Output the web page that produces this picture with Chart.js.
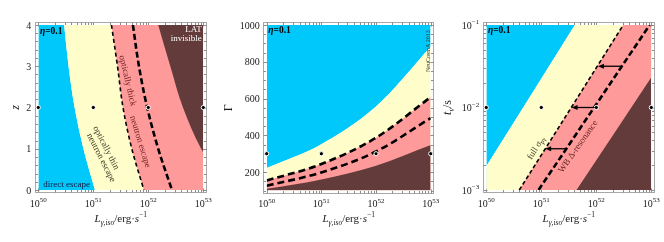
<!DOCTYPE html>
<html>
<head>
<meta charset="utf-8">
<script src="https://cdn.jsdelivr.net/npm/chart.js@4.4.1/dist/chart.umd.min.js"></script>
<style>
  html, body { margin: 0; padding: 0; background: #fff; }
  .panels { position: relative; width: 664px; height: 242px; }
  .panels canvas { position: absolute; top: 0; }
</style>
</head>
<body>
<div class="panels">
  <canvas id="zChart" width="221" height="242" style="left:0"></canvas>
  <canvas id="gammaChart" width="221" height="242" style="left:221px"></canvas>
  <canvas id="tvChart" width="222" height="242" style="left:442px"></canvas>
</div>
<script>
// values, luminosity as log10(L / erg s^-1)
const logLumDecades = [50, 51, 52, 53];

// left panel: region edges as log10 L at each redshift
const redshifts = [4, 3, 2, 1, 0];
const directEscapeEdge = [50.47, 50.55, 50.66, 50.82, 51.03];
const thinNeutronEdge = [51.33, 51.44, 51.54, 51.70, 51.92];
const thickNeutronEdge = [51.72, 51.83, 51.98, 52.18, 52.43];
const latRedshifts = [4, 3, 2, 1, 0.8];
const latInvisibleEdge = [52.18, 52.40, 52.63, 52.96, 53.05];
const refRedshift = 2;

// middle panel: region edges as Gamma at each decade of L
const escapeGamma = [222, 352, 557, 882];
const thinGamma = [154, 244, 387, 608];
const thickGamma = [126, 198, 312, 494];
const latGamma = [109, 160, 235, 348];
const refGamma = 300;

// right panel: edges as log10 L where they meet t_v = 1e-3 and 1e-1
const logTvEnds = [-3, -1];
const escapeTv = [49.73, 51.61];
const fullSigmaTv = [50.60, 52.49];
const wbDeltaTv = [50.95, 52.97];
const latTv = [51.64, 53.63];
const refLogTv = -2;
const arrowLogTv = [-1.5, -2, -2.5];
const arrowFrom = [52.47, 51.97, 51.46];
const arrowTo = [52.03, 51.55, 51.07];

const BLUE = '#00c8fa', YELLOW = '#fffdc9', PINK = '#ff9a9a', BROWN = '#643b3b';
const SERIF = '"Liberation Serif", "DejaVu Serif", serif';
const f = (size, style) => (style ? style + ' ' : '') + size + 'px ' + SERIF;

const pts = (xs, ys) => xs.map((x, i) => ({x, y: ys[i]}));
const same = (xs, v) => xs.map(() => v);

const region = (data, color, fill, order) => ({
    data, fill, order, backgroundColor: color, borderColor: 'transparent', borderWidth: 0,
    pointRadius: 0, cubicInterpolationMode: 'monotone'
});
const dashed = (data, width, dash) => ({
    data, fill: false, order: 1, borderColor: '#000', borderWidth: width, borderDash: dash,
    pointRadius: 0, cubicInterpolationMode: 'monotone'
});
const dots = (data) => ({
    data, showLine: false, order: 0, clip: false, pointRadius: 2.1,
    pointBackgroundColor: '#000', pointBorderColor: '#fff', pointBorderWidth: 1
});

const logMinor = (lo, hi) => {
    const out = [];
    for (let d = lo; d < hi; d++) for (let k = 2; k < 10; k++) out.push(d + Math.log10(k));
    return out;
};
const linMinor = (lo, hi, step) => {
    const out = [];
    for (let v = lo; v <= hi + 1e-9; v += step) out.push(v);
    return out;
};

function drawRuns(ctx, runs, x, y, align) {
    ctx.textAlign = 'left';
    let w = 0;
    for (const r of runs) { ctx.font = r.f; r.w = ctx.measureText(r.t).width; w += r.w; }
    let cx = align === 'center' ? x - w / 2 : (align === 'right' ? x - w : x);
    for (const r of runs) { ctx.font = r.f; ctx.fillText(r.t, cx, y + (r.dy || 0)); cx += r.w; }
}
const pow10 = e => [{t: '10', f: f(10)}, {t: String(e).replace('-', '\u2212'), f: f(7), dy: -4.5}];
const plain = v => [{t: String(v), f: f(10)}];
const lumTitle = [
    {t: 'L', f: f(11, 'italic')}, {t: '\u03b3,iso', f: f(7.5, 'italic'), dy: 2.5},
    {t: '/erg\u00b7', f: f(11)}, {t: 's', f: f(11, 'italic')}, {t: '\u22121', f: f(7.5), dy: -5}
];
const etaRuns = [{t: '\u03b7', f: f(9.5, 'italic bold')}, {t: '=0.1', f: f(9.5, 'bold')}];

function drawFrame(chart, o) {
    const {ctx, chartArea: a, scales: {x, y}} = chart;
    const l = Math.floor(a.left) - 2.5, r = Math.ceil(a.right) + 2.5;
    const t = Math.floor(a.top) - 2.5, b = Math.ceil(a.bottom) + 2.5;
    ctx.save();
    ctx.strokeStyle = '#a8a8a8';
    ctx.lineWidth = 1;
    ctx.strokeRect(l, t, r - l, b - t);
    ctx.strokeStyle = '#8c8c8c';
    ctx.beginPath();
    const xt = (v, len) => {
        const p = Math.round(x.getPixelForValue(v)) + 0.5;
        ctx.moveTo(p, b); ctx.lineTo(p, b - len); ctx.moveTo(p, t); ctx.lineTo(p, t + len);
    };
    const yt = (v, len) => {
        const p = Math.round(y.getPixelForValue(v)) + 0.5;
        ctx.moveTo(l, p); ctx.lineTo(l + len, p); ctx.moveTo(r, p); ctx.lineTo(r - len, p);
    };
    o.xMinor.forEach(v => xt(v, 2.5));
    o.xMajor.forEach(v => xt(v, 4));
    o.yMinor.forEach(v => yt(v, 2.5));
    o.yMajor.forEach(v => yt(v, 4));
    ctx.stroke();
    ctx.restore();
}

function drawAxisText(chart, o) {
    const {ctx, chartArea: a, scales: {x, y}} = chart;
    ctx.save();
    ctx.fillStyle = '#1a1a1a';
    ctx.textBaseline = 'alphabetic';
    o.xMajor.forEach(v => drawRuns(ctx, pow10(v), x.getPixelForValue(v), a.bottom + 16.5, 'center'));
    o.yMajor.forEach(v => drawRuns(ctx, o.yLabel(v), a.left - 7, y.getPixelForValue(v) + 3.5, 'right'));
    drawRuns(ctx, lumTitle, (a.left + a.right) / 2, 222, 'center');
    ctx.translate(a.left - o.yTitleGap, (a.top + a.bottom) / 2);
    ctx.rotate(-Math.PI / 2);
    drawRuns(ctx, o.yTitle, 0, 3.5, 'center');
    ctx.restore();
}

function label(chart, runs, xv, yv, opts) {
    const {ctx, scales: {x, y}} = chart;
    ctx.save();
    ctx.translate(x.getPixelForValue(xv), y.getPixelForValue(yv));
    ctx.rotate((opts.angle || 0) * Math.PI / 180);
    ctx.fillStyle = opts.color || '#111';
    ctx.textBaseline = opts.baseline || 'middle';
    drawRuns(ctx, runs, 0, 0, opts.align || 'center');
    ctx.restore();
}

function decoPlugin(o) {
    return {
        id: 'deco',
        beforeDatasetsDraw(chart) { drawFrame(chart, o); },
        afterDatasetsDraw(chart) {
            drawAxisText(chart, o);
            o.extra(chart);
        }
    };
}

function baseOptions(padding, indexAxis, xr, yr) {
    return {
        responsive: false,
        animation: false,
        events: [],
        indexAxis,
        layout: { padding },
        scales: {
            x: { type: 'linear', min: xr[0], max: xr[1], display: false },
            y: { type: 'linear', min: yr[0], max: yr[1], display: false }
        },
        plugins: { legend: { display: false }, tooltip: { enabled: false } }
    };
}

// ---------- left: z vs L ----------
new Chart(document.getElementById('zChart'), {
    type: 'line',
    data: {
        datasets: [
            dots(pts(logLumDecades, same(logLumDecades, refRedshift))),
            dashed(pts(thinNeutronEdge, redshifts), 1.6, [4, 3]),
            dashed(pts(thickNeutronEdge, redshifts), 2.6, [6, 3]),
            region(pts(latInvisibleEdge, latRedshifts), BROWN, {value: 53}, 2),
            region(pts(thinNeutronEdge, redshifts), PINK, {value: 53}, 3),
            region(pts(directEscapeEdge, redshifts), YELLOW, {value: 53}, 4),
            region(pts(directEscapeEdge, redshifts), BLUE, {value: 50}, 5)
        ]
    },
    options: baseOptions({left: 38.3, right: 17.7, top: 25, bottom: 52}, 'y', [50, 53], [0, 4]),
    plugins: [decoPlugin({
        xMajor: logLumDecades, xMinor: logMinor(50, 53),
        yMajor: [0, 1, 2, 3, 4], yMinor: linMinor(0, 4, 0.2),
        yLabel: plain, yTitle: [{t: 'z', f: f(12, 'italic')}], yTitleGap: 23,
        extra(chart) {
            label(chart, etaRuns, 50.03, 3.79, {align: 'left', baseline: 'alphabetic', color: '#000'});
            label(chart, [{t: 'LAT', f: f(9)}], 52.97, 3.84, {align: 'right', baseline: 'alphabetic', color: '#fff'});
            label(chart, [{t: 'invisible', f: f(9)}], 52.97, 3.61, {align: 'right', baseline: 'alphabetic', color: '#fff'});
            label(chart, [{t: 'direct escape', f: f(9)}], 50.09, 0.07, {align: 'left', baseline: 'alphabetic', color: '#16163e'});
            label(chart, [{t: 'optically thin', f: f(9)}], 51.23, 1.02, {angle: 63, color: '#3b3826'});
            label(chart, [{t: 'neutron escape', f: f(9)}], 51.14, 0.78, {angle: 63, color: '#3b3826'});
            label(chart, [{t: 'optically thick', f: f(9)}], 51.62, 2.65, {angle: 77, color: '#6a1f1f'});
            label(chart, [{t: 'neutron escape', f: f(9)}], 51.85, 1.17, {angle: 73, color: '#6a1f1f'});
        }
    })]
});

// ---------- middle: Gamma vs L ----------
new Chart(document.getElementById('gammaChart'), {
    type: 'line',
    data: {
        datasets: [
            dots(pts(logLumDecades, same(logLumDecades, refGamma))),
            dashed(pts(logLumDecades, thinGamma), 2.6, [7, 4]),
            dashed(pts(logLumDecades, thickGamma), 2.6, [7, 4]),
            region(pts(logLumDecades, latGamma), BROWN, 'start', 2),
            region(pts(logLumDecades, thinGamma), PINK, 'start', 3),
            region(pts(logLumDecades, escapeGamma), YELLOW, 'start', 4),
            region(pts(logLumDecades, escapeGamma), BLUE, 'end', 5)
        ]
    },
    options: baseOptions({left: 45.7, right: 11.3, top: 25, bottom: 51.5}, 'x', [50, 53], [100, 1000]),
    plugins: [decoPlugin({
        xMajor: logLumDecades, xMinor: logMinor(50, 53),
        yMajor: [200, 400, 600, 800, 1000], yMinor: linMinor(100, 1000, 50),
        yLabel: plain, yTitle: [{t: '\u0393', f: f(12)}], yTitleGap: 38.4,
        extra(chart) {
            label(chart, etaRuns, 50.03, 954, {align: 'left', baseline: 'alphabetic', color: '#000'});
            label(chart, [{t: 'NeuCosmA 2013', f: f(6)}], 52.95, 858, {angle: -90, color: '#333'});
        }
    })]
});

// ---------- right: t_v vs L ----------
new Chart(document.getElementById('tvChart'), {
    type: 'line',
    data: {
        datasets: [
            dots(pts(logLumDecades, same(logLumDecades, refLogTv))),
            dashed(pts(fullSigmaTv, logTvEnds), 1.6, [4, 2.5]),
            dashed(pts(wbDeltaTv, logTvEnds), 2.6, [6, 3]),
            region(pts(latTv, logTvEnds), BROWN, {value: 53}, 2),
            region(pts(fullSigmaTv, logTvEnds), PINK, {value: 53}, 3),
            region(pts(escapeTv, logTvEnds), YELLOW, {value: 53}, 4),
            region(pts(escapeTv, logTvEnds), BLUE, {value: 50}, 5)
        ]
    },
    options: baseOptions({left: 44.3, right: 12.7, top: 25, bottom: 52}, 'y', [50, 53], [-3, -1]),
    plugins: [decoPlugin({
        xMajor: logLumDecades, xMinor: logMinor(50, 53),
        yMajor: [-3, -2, -1], yMinor: logMinor(-3, -1),
        yLabel: pow10,
        yTitle: [{t: 't', f: f(12, 'italic')}, {t: 'v', f: f(8, 'italic'), dy: 2.5}, {t: '/s', f: f(12)}],
        yTitleGap: 38.8,
        extra(chart) {
            const {ctx, scales: {x, y}} = chart;
            label(chart, etaRuns, 50.03, -1.10, {align: 'left', baseline: 'alphabetic', color: '#000'});
            label(chart, [{t: 'full \u03c3', f: f(9)}, {t: 'p\u03b3', f: f(6.5), dy: 2}], 50.91, -2.49, {angle: -58, color: '#3b3826'});
            label(chart, [{t: 'WB \u0394-resonance', f: f(9)}], 51.67, -2.475, {angle: -55, color: '#5c1d1d'});
            ctx.save();
            ctx.strokeStyle = '#000';
            ctx.fillStyle = '#000';
            ctx.lineWidth = 1.3;
            arrowLogTv.forEach((v, i) => {
                const py = y.getPixelForValue(v);
                const x0 = x.getPixelForValue(arrowFrom[i]);
                const x1 = x.getPixelForValue(arrowTo[i]);
                ctx.beginPath();
                ctx.moveTo(x0, py);
                ctx.lineTo(x1 + 4, py);
                ctx.stroke();
                ctx.beginPath();
                ctx.moveTo(x1, py);
                ctx.lineTo(x1 + 6, py - 2.5);
                ctx.lineTo(x1 + 6, py + 2.5);
                ctx.closePath();
                ctx.fill();
            });
            ctx.restore();
        }
    })]
});
</script>
</body>
</html>
